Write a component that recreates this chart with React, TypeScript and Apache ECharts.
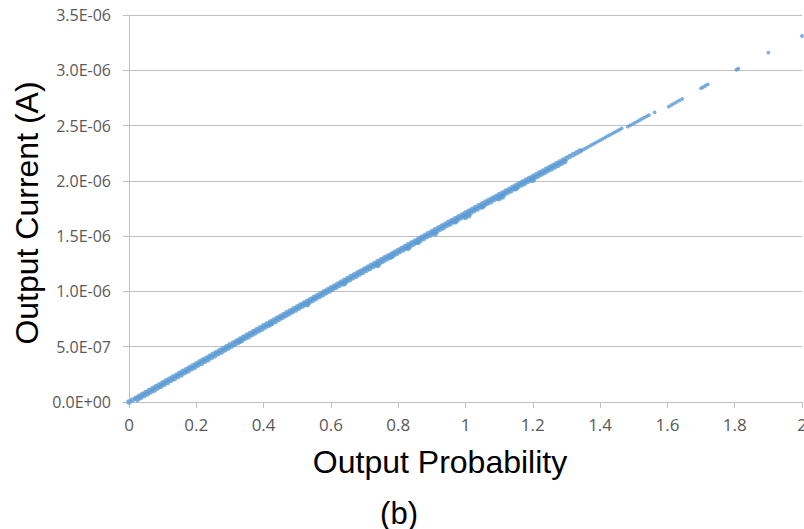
import React, { useEffect, useRef } from 'react';
import * as echarts from 'echarts';

// Output probability (x) vs output current in µA (y)
const BAND_MAIN: [number, number][] = [
  [0.00, 0.000], [0.01, 0.018], [0.02, 0.034], [0.03, 0.052], [0.04, 0.070], [0.05, 0.086],
  [0.06, 0.104], [0.07, 0.121], [0.08, 0.139], [0.09, 0.155], [0.10, 0.173], [0.11, 0.191],
  [0.12, 0.207], [0.13, 0.225], [0.14, 0.241], [0.15, 0.259], [0.16, 0.277], [0.17, 0.293],
  [0.18, 0.311], [0.19, 0.328], [0.20, 0.345], [0.21, 0.363], [0.22, 0.380], [0.23, 0.396],
  [0.24, 0.414], [0.25, 0.432], [0.26, 0.448], [0.27, 0.466], [0.28, 0.483], [0.29, 0.500],
  [0.30, 0.518], [0.31, 0.534], [0.32, 0.552], [0.33, 0.569], [0.34, 0.586], [0.35, 0.604],
  [0.36, 0.620], [0.37, 0.638], [0.38, 0.655], [0.39, 0.672], [0.40, 0.690], [0.41, 0.706],
  [0.42, 0.724], [0.43, 0.741], [0.44, 0.758], [0.45, 0.775], [0.46, 0.792], [0.47, 0.810],
  [0.48, 0.826], [0.49, 0.844], [0.50, 0.861], [0.51, 0.878], [0.52, 0.895], [0.53, 0.912],
  [0.54, 0.929], [0.55, 0.947], [0.56, 0.963], [0.57, 0.981], [0.58, 0.998], [0.59, 1.015],
  [0.60, 1.033], [0.61, 1.049], [0.62, 1.067], [0.63, 1.083], [0.64, 1.101], [0.65, 1.117],
  [0.66, 1.135], [0.67, 1.151], [0.68, 1.169], [0.69, 1.185], [0.70, 1.203], [0.71, 1.219],
  [0.72, 1.237], [0.73, 1.253], [0.74, 1.271], [0.75, 1.287], [0.76, 1.305], [0.77, 1.321],
  [0.78, 1.338], [0.79, 1.355], [0.80, 1.372], [0.81, 1.389], [0.82, 1.406], [0.83, 1.423],
  [0.84, 1.440], [0.85, 1.456], [0.86, 1.474], [0.87, 1.490], [0.88, 1.507], [0.89, 1.524],
  [0.90, 1.541], [0.91, 1.558], [0.92, 1.575], [0.93, 1.592], [0.94, 1.608], [0.95, 1.626],
  [0.96, 1.642], [0.97, 1.659], [0.98, 1.676], [0.99, 1.693], [1.00, 1.710], [1.01, 1.726],
  [1.02, 1.743], [1.03, 1.759], [1.04, 1.776], [1.05, 1.792], [1.06, 1.809], [1.07, 1.825],
  [1.08, 1.842], [1.09, 1.858], [1.10, 1.875], [1.11, 1.891], [1.12, 1.908], [1.13, 1.924],
  [1.14, 1.941], [1.15, 1.957], [1.16, 1.974], [1.17, 1.990], [1.18, 2.007], [1.19, 2.023],
  [1.20, 2.039], [1.21, 2.056], [1.22, 2.072], [1.23, 2.089], [1.24, 2.105], [1.25, 2.122],
  [1.26, 2.138], [1.27, 2.155], [1.28, 2.171], [1.29, 2.188], [1.30, 2.204], [1.31, 2.221],
  [1.32, 2.237], [1.33, 2.254], [1.34, 2.270],
];

const BAND_LOWER: [number, number][] = [
  [0.035, 0.040], [0.055, 0.073], [0.075, 0.107], [0.095, 0.142], [0.115, 0.176], [0.135, 0.211],
  [0.155, 0.245], [0.175, 0.280], [0.195, 0.314], [0.215, 0.349], [0.235, 0.383], [0.255, 0.418],
  [0.275, 0.452], [0.295, 0.487], [0.315, 0.521], [0.335, 0.556], [0.355, 0.590], [0.375, 0.625],
  [0.395, 0.659], [0.415, 0.694], [0.435, 0.728], [0.455, 0.763], [0.475, 0.797], [0.495, 0.832],
  [0.515, 0.866], [0.535, 0.900], [0.555, 0.934], [0.575, 0.968], [0.595, 1.002], [0.615, 1.036],
  [0.635, 1.070], [0.655, 1.104], [0.675, 1.138], [0.695, 1.172], [0.715, 1.206], [0.735, 1.240],
  [0.755, 1.274], [0.775, 1.308], [0.795, 1.341], [0.815, 1.375], [0.835, 1.409], [0.855, 1.443],
  [0.875, 1.477], [0.895, 1.510], [0.915, 1.544], [0.935, 1.578], [0.955, 1.612], [0.975, 1.645],
  [0.995, 1.679], [1.015, 1.712], [1.035, 1.745], [1.055, 1.778], [1.075, 1.811], [1.095, 1.844],
  [1.115, 1.877], [1.135, 1.910], [1.155, 1.943], [1.175, 1.976], [1.195, 2.009], [1.215, 2.042],
  [1.235, 2.075], [1.255, 2.108], [1.275, 2.141], [1.295, 2.174],
];

const BAND_LOWER_2: [number, number][] = [
  [0.025, 0.023], [0.045, 0.058], [0.065, 0.092], [0.085, 0.127], [0.105, 0.162], [0.125, 0.196],
  [0.145, 0.230], [0.165, 0.265], [0.185, 0.299], [0.205, 0.334], [0.225, 0.368], [0.245, 0.403],
  [0.265, 0.437], [0.285, 0.471], [0.305, 0.506], [0.325, 0.540], [0.345, 0.575], [0.365, 0.609],
  [0.385, 0.644], [0.405, 0.678], [0.425, 0.712], [0.445, 0.747], [0.465, 0.781], [0.485, 0.815],
  [0.505, 0.850], [0.525, 0.884], [0.545, 0.918], [0.565, 0.952], [0.585, 0.987], [0.605, 1.021],
  [0.625, 1.055], [0.645, 1.089], [0.665, 1.123], [0.685, 1.157], [0.705, 1.191], [0.725, 1.225],
  [0.745, 1.259], [0.765, 1.293], [0.785, 1.327], [0.805, 1.361], [0.825, 1.395], [0.845, 1.428],
  [0.865, 1.462], [0.885, 1.496], [0.905, 1.530], [0.925, 1.563], [0.945, 1.597], [0.965, 1.631],
  [0.985, 1.664], [1.005, 1.698], [1.025, 1.731], [1.045, 1.764], [1.065, 1.797], [1.085, 1.830],
  [1.105, 1.863], [1.125, 1.896], [1.145, 1.929], [1.165, 1.962], [1.185, 1.995], [1.205, 2.027],
  [1.225, 2.060], [1.245, 2.093], [1.265, 2.126], [1.285, 2.159],
];

const BAND_DIPS: [number, number][] = [
  [0.33, 0.550], [0.42, 0.705], [0.53, 0.880], [0.64, 1.070], [0.74, 1.235], [0.78, 1.315],
  [0.83, 1.390], [0.86, 1.445], [0.91, 1.520], [0.97, 1.630], [1.00, 1.670], [1.01, 1.685],
  [1.05, 1.765], [1.10, 1.840], [1.11, 1.855], [1.15, 1.930], [1.20, 2.005],
];

const TAIL: [number, number][] = [
  [1.345, 2.275], [1.352, 2.286], [1.359, 2.298], [1.366, 2.310], [1.373, 2.322], [1.380, 2.333],
  [1.387, 2.345], [1.394, 2.357], [1.401, 2.369], [1.408, 2.380], [1.415, 2.392], [1.422, 2.404],
  [1.429, 2.415], [1.436, 2.427], [1.443, 2.439], [1.450, 2.450], [1.457, 2.462], [1.464, 2.474],
  [1.482, 2.490], [1.489, 2.502], [1.496, 2.513], [1.503, 2.525], [1.510, 2.536], [1.517, 2.548],
  [1.524, 2.560], [1.531, 2.571], [1.538, 2.583], [1.545, 2.594], [1.562, 2.620],
  [1.604, 2.672], [1.612, 2.686], [1.620, 2.700], [1.628, 2.714], [1.636, 2.728], [1.644, 2.742],
  [1.700, 2.838], [1.706, 2.848], [1.713, 2.860], [1.720, 2.872],
  [1.805, 3.005], [1.811, 3.015], [1.900, 3.160], [2.000, 3.310],
];

const MICRO = 1e-6;
const X_MIN = 0, X_MAX = 2, X_STEP = 0.2;
const Y_MIN = 0, Y_MAX = 3.5e-6, Y_STEP = 0.5e-6;

function fmtSci(v: number): string {
  if (Math.abs(v) < 1e-15) return '0.0E+00';
  const e = Math.floor(Math.log10(Math.abs(v)) + 1e-9);
  const m = v / Math.pow(10, e);
  return m.toFixed(1) + 'E' + (e < 0 ? '-' : '+') + String(Math.abs(e)).padStart(2, '0');
}

export default function App() {
  const ref = useRef<HTMLDivElement>(null);
  useEffect(() => {
    if (!ref.current) return;
    const chart = echarts.init(ref.current, undefined, { renderer: 'svg' });
    const toA = (arr: [number, number][]) => arr.map(([x, y]) => [x, y * MICRO]);
    const band = [...toA(BAND_MAIN), ...toA(BAND_LOWER), ...toA(BAND_LOWER_2), ...toA(BAND_DIPS)];
    const tail = toA(TAIL);
    const gray = '#BFBFBF';
    const labelColor = '#595959';
    const blue = '#5B9BD5';
    chart.setOption({
      animation: false,
      backgroundColor: '#ffffff',
      grid: { left: 129, right: 2, top: 15, bottom: 127, containLabel: false, outerBoundsMode: 'none' },
      xAxis: {
        type: 'value', min: X_MIN, max: X_MAX, interval: X_STEP,
        axisLine: { show: true, lineStyle: { color: gray, width: 1 } },
        axisTick: { show: true, length: 6, lineStyle: { color: gray } },
        splitLine: { show: false },
        axisLabel: {
          margin: 14, color: labelColor, fontFamily: 'Open Sans', fontSize: 17,
          formatter: (v: number) => String(parseFloat(v.toFixed(1))),
        },
      },
      yAxis: {
        type: 'value', min: Y_MIN, max: Y_MAX, interval: Y_STEP,
        axisLine: { show: true, lineStyle: { color: gray, width: 1 } },
        axisTick: { show: true, length: 6, lineStyle: { color: gray } },
        splitLine: { show: true, lineStyle: { color: gray, width: 1 } },
        axisLabel: {
          margin: 18, color: labelColor, fontFamily: 'Open Sans', fontSize: 16,
          formatter: (v: number) => fmtSci(v),
        },
      },
      series: [
        {
          type: 'scatter', data: band, symbol: 'circle', symbolSize: 5.5,
          itemStyle: { color: blue },
        },
        {
          type: 'scatter', data: tail, symbol: 'circle', symbolSize: 3.8,
          itemStyle: { color: blue },
        },
      ],
      graphic: [
        { type: 'text', x: 440, y: 462, style: { text: 'Output Probability', font: '32px "Liberation Sans", Arial, sans-serif', fill: '#000', align: 'center', verticalAlign: 'middle' } },
        { type: 'text', x: 399, y: 513, style: { text: '(b)', font: '31px "Liberation Sans", Arial, sans-serif', fill: '#000', align: 'center', verticalAlign: 'middle' } },
        { type: 'text', x: 27, y: 213, rotation: Math.PI / 2, style: { text: 'Output Current (A)', font: '32px "Liberation Sans", Arial, sans-serif', fill: '#000', align: 'center', verticalAlign: 'middle' } },
      ],
    });
    return () => chart.dispose();
  }, []);
  return (
    <div style={{ position: 'fixed', left: 0, top: 0, width: 804, height: 529, background: '#fff' }}>
      <div ref={ref} style={{ width: 804, height: 529 }} />
    </div>
  );
}
